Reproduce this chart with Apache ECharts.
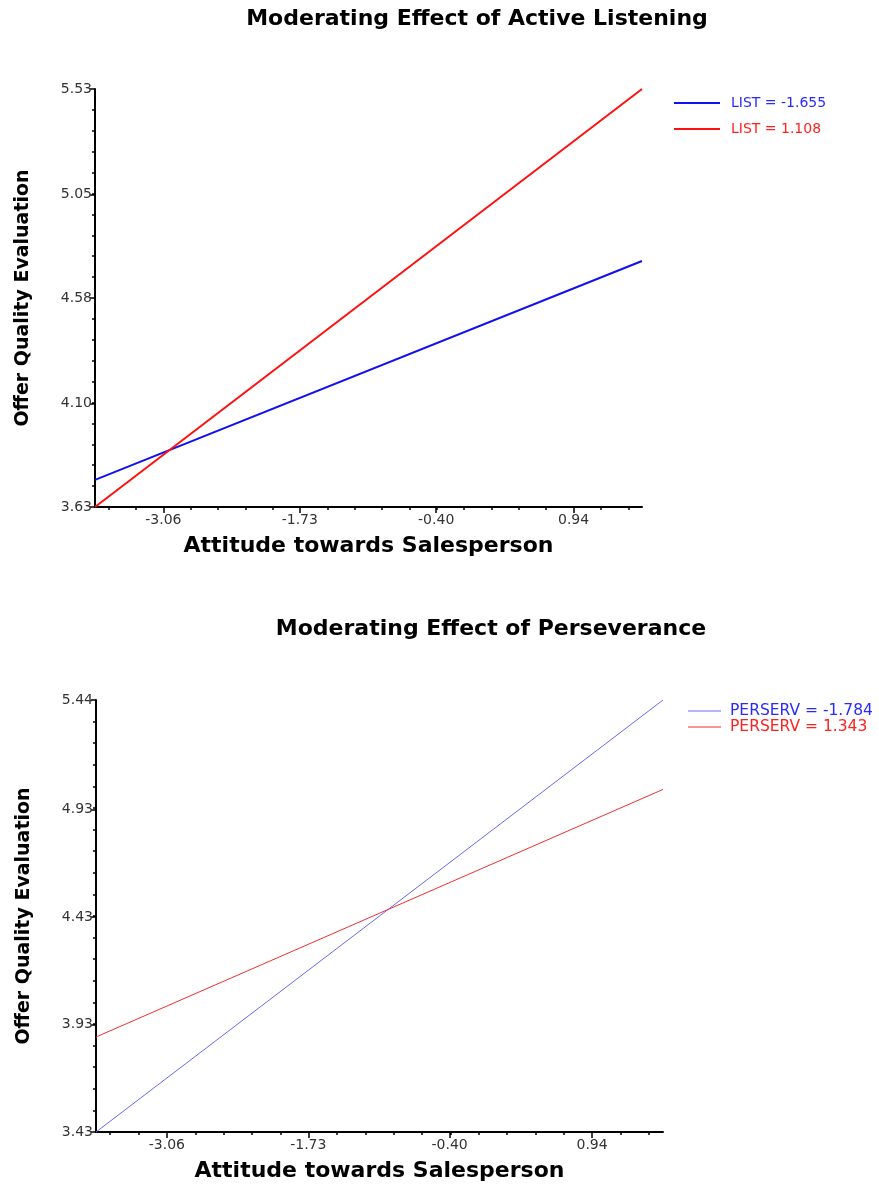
<!DOCTYPE html>
<html>
<head>
<meta charset="utf-8">
<title>Moderating Effects</title>
<script src="https://cdn.jsdelivr.net/npm/echarts@6/dist/echarts.min.js"></script>
<style>
  html, body { margin: 0; padding: 0; background: #fff; }
  #chart { width: 879px; height: 1188px; }
</style>
</head>
<body>
<div id="chart"></div>
<script>
// x extent of both plots (ends of the simple slope lines)
var xEnds = [-3.727, 1.607];
var xTicks = [-3.06, -1.73, -0.40, 0.94];

// top plot: Active Listening
var listSeriesNames = ['LIST = -1.655', 'LIST = 1.108'];
var listLow = [3.753, 4.748];
var listHigh = [3.63, 5.53];
var yTicksTop = [3.63, 4.10, 4.58, 5.05, 5.53];

// bottom plot: Perseverance
var persSeriesNames = ['PERSERV = -1.784', 'PERSERV = 1.343'];
var persLow = [3.43, 5.44];
var persHigh = [3.872, 5.024];
var yTicksBot = [3.43, 3.93, 4.43, 4.93, 5.44];

var FONT = 'DejaVu Sans';

function pairs(xs, ys) {
	var out = [];
	for (var i = 0; i < xs.length; i++) out.push([xs[i], ys[i]]);
	return out;
}

// minor ticks: 5 divisions between major ticks, extended to the axis ends
function minorTicks(major, min, max) {
	var step = (major[major.length - 1] - major[0]) / (major.length - 1) / 5;
	var out = [];
	var v = major[0];
	while (v - step >= min - 1e-9) v -= step;
	for (; v <= max + 1e-9; v += step) out.push(+v.toFixed(4));
	return out;
}

function majorX(gridIndex) {
	return {
		type: 'value', gridIndex: gridIndex, position: 'bottom',
		min: xEnds[0], max: xEnds[1],
		name: 'Attitude towards Salesperson', nameLocation: 'middle', nameGap: 28,
		nameTextStyle: { fontFamily: FONT, fontWeight: 'bold', fontSize: 22, color: '#000' },
		axisLine: { show: true, onZero: false, lineStyle: { color: '#000', width: 2 } },
		axisTick: { show: true, customValues: xTicks, length: 6, lineStyle: { color: '#000', width: 1.5 } },
		axisLabel: { show: true, customValues: xTicks, margin: 6, fontFamily: FONT, fontSize: 14, color: '#333',
			formatter: function (v) { return v.toFixed(2); } },
		splitLine: { show: false }
	};
}

function minorX(gridIndex) {
	return {
		type: 'value', gridIndex: gridIndex, position: 'bottom',
		min: xEnds[0], max: xEnds[1],
		axisLine: { show: false, onZero: false },
		axisTick: { show: true, customValues: minorTicks(xTicks, xEnds[0], xEnds[1]), length: 3, lineStyle: { color: '#000', width: 1.5 } },
		axisLabel: { show: false },
		splitLine: { show: false }
	};
}

function majorY(gridIndex, ticks) {
	return {
		type: 'value', gridIndex: gridIndex, position: 'left',
		min: ticks[0], max: ticks[ticks.length - 1],
		name: 'Offer Quality Evaluation', nameLocation: 'middle', nameGap: 62, nameRotate: 90,
		nameTextStyle: { fontFamily: FONT, fontWeight: 'bold', fontSize: 19, color: '#000' },
		axisLine: { show: true, onZero: false, lineStyle: { color: '#000', width: 2 } },
		axisTick: { show: true, customValues: ticks, length: 5, lineStyle: { color: '#000', width: 1.5 } },
		axisLabel: { show: true, customValues: ticks, margin: 3, fontFamily: FONT, fontSize: 14, color: '#333',
			formatter: function (v) { return v.toFixed(2); } },
		splitLine: { show: false }
	};
}

function minorY(gridIndex, ticks) {
	var mn = ticks[0], mx = ticks[ticks.length - 1];
	return {
		type: 'value', gridIndex: gridIndex, position: 'left',
		min: mn, max: mx,
		axisLine: { show: false, onZero: false },
		axisTick: { show: true, customValues: minorTicks(ticks, mn, mx), length: 3, lineStyle: { color: '#000', width: 1.5 } },
		axisLabel: { show: false },
		splitLine: { show: false }
	};
}

function lineSeries(name, xi, yi, data, color, width) {
	return {
		name: name, type: 'line', xAxisIndex: xi, yAxisIndex: yi,
		data: data, symbol: 'none', silent: true, clip: false,
		lineStyle: { color: color, width: width }, itemStyle: { color: color }
	};
}

var chart = echarts.init(document.getElementById('chart'), null, { renderer: 'canvas' });

var option = {
	backgroundColor: '#fff',
	animation: false,
	title: [
		{ text: 'Moderating Effect of Active Listening', left: 472, top: 3, textAlign: 'center',
		  textStyle: { fontFamily: FONT, fontWeight: 'bold', fontSize: 22, color: '#000' } },
		{ text: 'Moderating Effect of Perseverance', left: 486, top: 613, textAlign: 'center',
		  textStyle: { fontFamily: FONT, fontWeight: 'bold', fontSize: 22, color: '#000' } }
	],
	legend: [
		{
			orient: 'vertical', left: 669, top: 91, itemWidth: 46, itemHeight: 2, itemGap: 12, icon: 'rect',
			data: [
				{ name: listSeriesNames[0], textStyle: { color: '#2a2aff' } },
				{ name: listSeriesNames[1], textStyle: { color: '#ff2020' } }
			],
			textStyle: { fontFamily: FONT, fontSize: 14, padding: [0, 0, 0, 6] }, selectedMode: false
		},
		{
			orient: 'vertical', left: 683, top: 698, itemWidth: 33, itemHeight: 1, itemGap: 0, icon: 'rect',
			data: [
				{ name: persSeriesNames[0], textStyle: { color: '#2a2aff' } },
				{ name: persSeriesNames[1], textStyle: { color: '#ff2020' } }
			],
			textStyle: { fontFamily: FONT, fontSize: 15.5, lineHeight: 16, padding: [0, 0, 0, 4] }, selectedMode: false
		}
	],
	grid: [
		{ left: 95, top: 89, width: 547, height: 418 },
		{ left: 96, top: 700, width: 567, height: 432 }
	],
	xAxis: [majorX(0), minorX(0), majorX(1), minorX(1)],
	yAxis: [majorY(0, yTicksTop), minorY(0, yTicksTop), majorY(1, yTicksBot), minorY(1, yTicksBot)],
	series: [
		lineSeries(listSeriesNames[0], 0, 0, pairs(xEnds, listLow), '#1010f0', 2),
		lineSeries(listSeriesNames[1], 0, 0, pairs(xEnds, listHigh), '#ff1010', 2),
		lineSeries(persSeriesNames[0], 2, 2, pairs(xEnds, persLow), '#6a6af0', 1),
		lineSeries(persSeriesNames[1], 2, 2, pairs(xEnds, persHigh), '#f03030', 1)
	]
};

chart.setOption(option);
</script>
</body>
</html>
